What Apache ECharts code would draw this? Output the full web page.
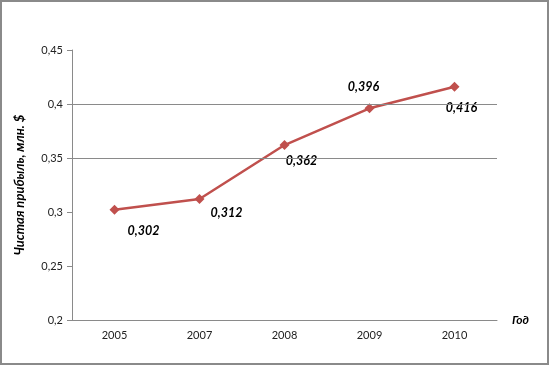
<!DOCTYPE html>
<html><head><meta charset="utf-8">
<script src="https://cdn.jsdelivr.net/npm/echarts@6/dist/echarts.min.js"></script>
<style>
html,body{margin:0;padding:0;background:#fff;}
#c{width:549px;height:365px;box-sizing:border-box;border:2px solid #8a8a8a;}
</style></head><body>
<div id="c"></div>
<script>
var years = ['2005','2007','2008','2009','2010'];
var profit = [0.302, 0.312, 0.362, 0.396, 0.416];
var labelOffsets = [[29,21],[27,14],[17,16],[-6,-21],[7,21]];
var gridValues = [0.4, 0.35];

var chart = echarts.init(document.getElementById('c'));
var fontFam = 'Lato, "Open Sans", sans-serif';
chart.setOption({
  animation:false,
  grid:{left:70,right:50,top:48,bottom:43},
  xAxis:{
    type:'category', data:years, boundaryGap:true,
    axisLine:{lineStyle:{color:'#8a8a8a',width:1}},
    axisTick:{show:false},
    axisLabel:{color:'#222',fontSize:11,fontFamily:fontFam,margin:10},
    name:'Год', nameLocation:'end', nameGap:15,
    nameTextStyle:{fontStyle:'italic',fontWeight:'bold',fontSize:12,color:'#000',fontFamily:fontFam,verticalAlign:'middle',padding:[12,0,0,0]}
  },
  yAxis:{
    type:'value', min:0.2, max:0.45, interval:0.05,
    axisLine:{show:true,lineStyle:{color:'#8a8a8a',width:1}},
    axisTick:{show:true,length:5,lineStyle:{color:'#8a8a8a'}},
    splitLine:{show:false},
    axisLabel:{color:'#222',fontSize:11,fontFamily:fontFam,margin:9,
      formatter:function(v){return String(Math.round(v*100)/100).replace('.',',');}},
    name:'Чистая прибыль, млн. $', nameLocation:'middle', nameGap:46,
    nameTextStyle:{fontStyle:'italic',fontWeight:'bold',fontSize:13,color:'#000',fontFamily:fontFam}
  },
  series:[{
    type:'line', data:profit.map(function(v,i){
      return {value:v,label:{offset:labelOffsets[i]}};
    }),
    symbol:'diamond', symbolSize:10,
    lineStyle:{color:'#C0504D',width:2.5},
    itemStyle:{color:'#C0504D'},
    label:{show:true,position:'inside',fontStyle:'italic',fontWeight:'bold',fontSize:12.5,color:'#000',fontFamily:fontFam,
      formatter:function(p){return String(p.value).replace('.',',');}},
    markLine:{silent:true,symbol:['none','none'],label:{show:false},
      lineStyle:{color:'#8a8a8a',width:1,type:'solid'},
      data:gridValues.map(function(v){return {yAxis:v};})},
    z:3
  }]
});
</script></body></html>
